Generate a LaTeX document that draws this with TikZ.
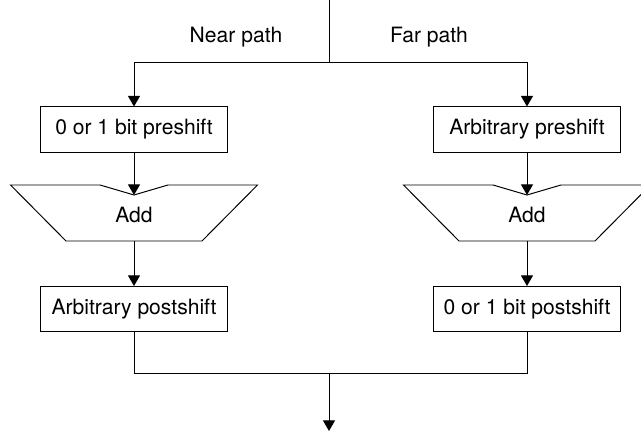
\documentclass[tikz,border=0pt]{standalone}
\usepackage{fontspec}
\setmainfont{TeX Gyre Heros}
\usetikzlibrary{arrows.meta}

\tikzset{
  shiftbox/.style={draw, line width=0.7pt, minimum width=4.65cm, minimum height=1.125cm, inner sep=0pt},
  wire/.style={line width=0.7pt},
  flow/.style={wire, -{Triangle[length=7.5pt,width=8.5pt]}},
}

\begin{document}
\begin{tikzpicture}[x=0.025cm, y=-0.025cm, every node/.style={font=\fontsize{15}{18}\selectfont}]
\useasboundingbox (0,0) rectangle (641,431);
% input and split
\coordinate (in) at (329,0);
\coordinate (split) at (329,62);
\node (nearlab) at (236,37) {Near path};
\node (farlab) at (429,37) {Far path};
\node[shiftbox] (npre) at (134,129.5) {0 or 1 bit preshift};
\node[shiftbox] (fpre) at (527,129.5) {Arbitrary preshift};
\draw[wire] (in) -- (split);
\draw[flow] (split) -| (npre);
\draw[flow] (split) -| (fpre);
% adders
\foreach \cx/\nm in {134/nadd, 527/fadd} {
  \draw[wire] ({\cx-123.5},185) -- ({\cx-34},185) -- (\cx,195) -- ({\cx+34},185)
    -- ({\cx+123.5},185) -- ({\cx+68},241) -- ({\cx-68},241) -- cycle;
  \node (\nm) at (\cx,215) {Add};
  \coordinate (\nm-in) at (\cx,195);
  \coordinate (\nm-out) at (\cx,241);
}
\draw[flow] (npre) -- (nadd-in);
\draw[flow] (fpre) -- (fadd-in);
% postshift
\node[shiftbox] (npost) at (134,309) {Arbitrary postshift};
\node[shiftbox] (fpost) at (527,309) {0 or 1 bit postshift};
\draw[flow] (nadd-out) -- (npost);
\draw[flow] (fadd-out) -- (fpost);
% merge
\coordinate (join) at (329,373);
\coordinate (out) at (329,431);
\draw[wire] (npost) |- (join);
\draw[wire] (fpost) |- (join);
\draw[flow] (join) -- (out);
\end{tikzpicture}
\end{document}
